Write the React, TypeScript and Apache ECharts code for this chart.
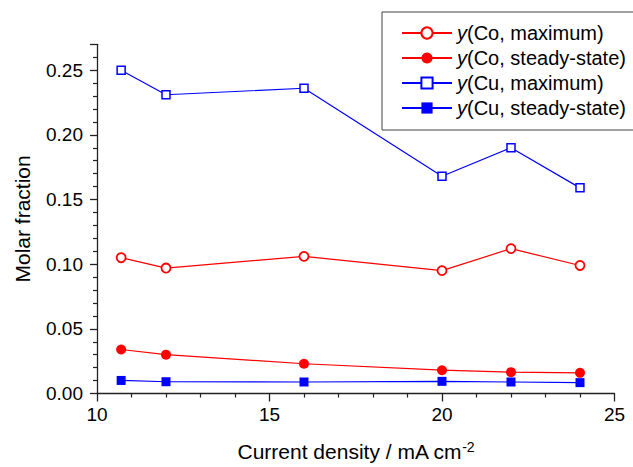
import React, { useEffect, useRef } from "react";
import * as echarts from "echarts";

const currentDensity = [10.7, 12, 16, 20, 22, 24];
const coMaximum = [0.105, 0.097, 0.106, 0.095, 0.112, 0.099];
const coSteady = [0.034, 0.030, 0.023, 0.018, 0.0165, 0.016];
const cuMaximum = [0.250, 0.231, 0.236, 0.168, 0.190, 0.159];
const cuSteady = [0.0101, 0.0091, 0.0089, 0.0094, 0.0089, 0.0084];
const seriesNames = ["Co, maximum", "Co, steady-state", "Cu, maximum", "Cu, steady-state"];

const FONT = "'Liberation Sans', Arial, Helvetica, sans-serif";

function pairs(ys: number[]) {
  return currentDensity.map((x, i) => [x, ys[i]]);
}

export default function App() {
  const ref = useRef<HTMLDivElement>(null);
  useEffect(() => {
    if (!ref.current) return;
    const chart = echarts.init(ref.current, null, { renderer: "svg" });
    const RED = "#ff0000";
    const BLUE = "#0000ff";
    const option: any = {
      animation: false,
      backgroundColor: "#ffffff",
      textStyle: { fontFamily: FONT, color: "#000" },
      grid: { left: 97, right: 18.5, top: 44.3, bottom: 68, containLabel: false },
      legend: {
        orient: "vertical",
        left: 382,
        top: 12,
        padding: [10, 8, 11, 19],
        borderColor: "#444",
        borderWidth: 1,
        itemWidth: 50,
        itemHeight: 14,
        itemGap: 3,
        textStyle: {
          fontFamily: FONT,
          fontSize: 20,
          color: "#000",
          lineHeight: 22,
          rich: {
            i: { fontFamily: FONT, fontSize: 20, fontStyle: "italic", lineHeight: 22, color: "#000" },
            t: { fontFamily: FONT, fontSize: 20, lineHeight: 22, color: "#000" },
          },
        },
        formatter: (name: string) => `{i|y}{t|(${name})}`,
        data: seriesNames,
      },
      xAxis: {
        type: "value",
        min: 10,
        max: 25,
        interval: 5,
        name: "Current density / mA cm{sup|-2}",
        nameLocation: "middle",
        nameGap: 46,
        nameTextStyle: {
          fontFamily: FONT,
          fontSize: 21,
          color: "#000",
          rich: {
            sup: { fontFamily: FONT, fontSize: 14, verticalAlign: "top", padding: [0, 0, 10, 0], color: "#000" },
          },
        },
        axisLine: { show: true, lineStyle: { color: "#222", width: 1.3 } },
        axisTick: { show: true, inside: false, length: 8, lineStyle: { color: "#222", width: 1.3 } },
        minorTick: { show: true, splitNumber: 5, length: 4, lineStyle: { color: "#222", width: 1.2 } },
        splitLine: { show: false },
        axisLabel: { fontFamily: FONT, fontSize: 19, color: "#000", margin: 11 },
      },
      yAxis: {
        type: "value",
        min: 0,
        max: 0.27,
        interval: 0.05,
        name: "Molar fraction",
        nameLocation: "middle",
        nameGap: 64,
        nameTextStyle: { fontFamily: FONT, fontSize: 21, color: "#000" },
        axisLine: { show: true, onZero: false, lineStyle: { color: "#222", width: 1.3 } },
        axisTick: { show: true, inside: false, length: 7, lineStyle: { color: "#222", width: 1.3 } },
        minorTick: { show: true, splitNumber: 5, length: 4, lineStyle: { color: "#222", width: 1.2 } },
        splitLine: { show: false },
        axisLabel: {
          fontFamily: FONT,
          fontSize: 19,
          color: "#000",
          margin: 14,
          showMaxLabel: false,
          formatter: (v: number) => v.toFixed(2),
        },
      },
      series: [
        {
          name: seriesNames[0],
          type: "line",
          data: pairs(coMaximum),
          symbol: "circle",
          symbolSize: 9,
          itemStyle: { color: "#ffffff", borderColor: RED, borderWidth: 1.8 },
          lineStyle: { color: RED, width: 1.2 },
          z: 3,
        },
        {
          name: seriesNames[1],
          type: "line",
          data: pairs(coSteady),
          symbol: "circle",
          symbolSize: 10,
          itemStyle: { color: RED, borderColor: RED, borderWidth: 0 },
          lineStyle: { color: RED, width: 1.2 },
          z: 3,
        },
        {
          name: seriesNames[2],
          type: "line",
          data: pairs(cuMaximum),
          symbol: "rect",
          symbolSize: 8,
          itemStyle: { color: "#ffffff", borderColor: BLUE, borderWidth: 1.5 },
          lineStyle: { color: BLUE, width: 1.2 },
          z: 3,
        },
        {
          name: seriesNames[3],
          type: "line",
          data: pairs(cuSteady),
          symbol: "rect",
          symbolSize: 9,
          itemStyle: { color: BLUE, borderColor: BLUE, borderWidth: 0 },
          lineStyle: { color: BLUE, width: 1.2 },
          z: 3,
        },
      ],
    };
    chart.setOption(option);
    return () => chart.dispose();
  }, []);
  return (
    <div
      ref={ref}
      style={{ position: "absolute", left: 0, top: 0, width: 633, height: 467, background: "#fff" }}
    />
  );
}
